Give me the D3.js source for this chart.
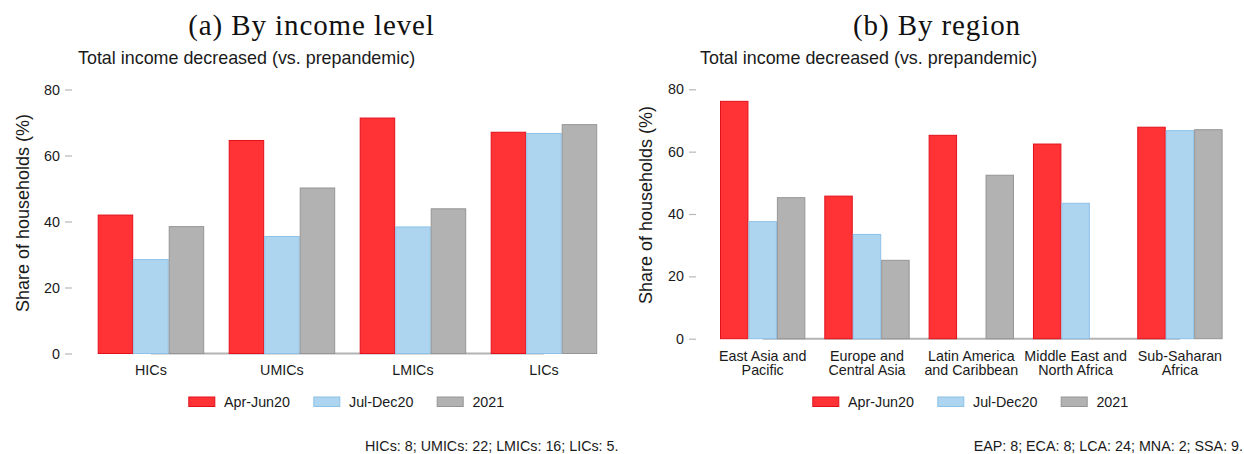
<!DOCTYPE html>
<html>
<head>
<meta charset="utf-8">
<script src="https://cdn.jsdelivr.net/npm/d3@7"></script>
<style>
  html, body { margin: 0; padding: 0; background: #fff; }
  svg { display: block; }
  text { font-family: "Liberation Sans", Arial, sans-serif; fill: #1a1a1a; }
  .title { font-family: "Liberation Serif", "Times New Roman", serif; font-size: 29px; letter-spacing: 0.9px; fill: #111; }
</style>
</head>
<body>
<svg id="chart" width="1244" height="454"></svg>
<script>
// Series shown in both panels
const seriesNames = ["Apr-Jun20", "Jul-Dec20", "2021"];
const seriesFill = ["#ff3336", "#aed5f0", "#b2b2b2"];
const seriesStroke = ["#e2101a", "#8cc1e8", "#959595"];

// Panel (a): income level
const incomeGroups = ["HICs", "UMICs", "LMICs", "LICs"];
const incomeAprJun20 = [42.1, 64.7, 71.5, 67.2];
const incomeJulDec20 = [28.6, 35.6, 38.5, 66.8];
const income2021 = [38.6, 50.3, 44.0, 69.5];
const incomeNote = "HICs: 8; UMICs: 22; LMICs: 16; LICs: 5.";

// Panel (b): region (null = no observation)
const regionGroups = [
  ["East Asia and", "Pacific"],
  ["Europe and", "Central Asia"],
  ["Latin America", "and Caribbean"],
  ["Middle East and", "North Africa"],
  ["Sub-Saharan", "Africa"]
];
const regionAprJun20 = [76.3, 45.9, 65.4, 62.6, 68.0];
const regionJulDec20 = [37.7, 33.6, null, 43.6, 66.9];
const region2021 = [45.4, 25.3, 52.6, null, 67.2];
const regionNote = "EAP: 8; ECA: 8; LCA: 24; MNA: 2; SSA: 9.";

const yTicks = [0, 20, 40, 60, 80];
const subtitle = "Total income decreased (vs. prepandemic)";
const yLabel = "Share of households (%)";

const svg = d3.select("#chart");

function drawPanel(cfg) {
  const g = svg.append("g");
  const labels = cfg.groups.map(d => Array.isArray(d) ? d.join(" ") : d);

  const x = d3.scaleBand().domain(labels).range(cfg.xRange)
    .paddingInner(cfg.padInner).paddingOuter(cfg.padInner / 2);
  const xs = d3.scaleBand().domain(seriesNames).range([0, x.bandwidth()]);
  const y = d3.scaleLinear().domain([0, 80]).range(cfg.yRange);

  // Titles
  g.append("text").attr("class", "title")
    .attr("x", cfg.titleX).attr("y", 35).attr("text-anchor", "middle")
    .text(cfg.title);
  g.append("text").attr("x", cfg.subX).attr("y", 64)
    .style("font-size", "17.9px").text(subtitle);

  // Y axis: ticks and labels only
  const yAxis = d3.axisLeft(y).tickValues(yTicks).tickSize(7).tickPadding(5);
  const ya = g.append("g").attr("transform", `translate(${cfg.axisX},0)`).call(yAxis);
  ya.select(".domain").remove();
  ya.selectAll(".tick line").attr("stroke", "#b8b8b8").attr("stroke-width", 1.2);
  ya.selectAll(".tick text").style("font-size", "14.3px").style("font-family", "Liberation Sans, Arial, sans-serif").attr("fill", "#1a1a1a");

  g.append("text")
    .attr("transform", `translate(${cfg.yLabelX},${cfg.yLabelY}) rotate(-90)`)
    .attr("text-anchor", "middle").style("font-size", "18px")
    .text(yLabel);

  // Zero line spanning the category centres
  g.append("line")
    .attr("x1", x(labels[0]) + x.bandwidth() / 2)
    .attr("x2", x(labels[labels.length - 1]) + x.bandwidth() / 2)
    .attr("y1", y(0)).attr("y2", y(0))
    .attr("stroke", "#b4b4b4").attr("stroke-width", 2);

  // Bars
  const rows = [];
  labels.forEach((lab, i) => {
    cfg.values.forEach((arr, s) => {
      if (arr[i] != null) rows.push({ lab, s, v: arr[i] });
    });
  });
  g.selectAll("rect.bar").data(rows).join("rect")
    .attr("class", "bar")
    .attr("x", d => x(d.lab) + xs(seriesNames[d.s]) + 0.5)
    .attr("width", xs.bandwidth() - 1)
    .attr("y", d => y(d.v) + 0.5)
    .attr("height", d => y(0) - y(d.v) - 0.5)
    .attr("fill", d => seriesFill[d.s])
    .attr("stroke", d => seriesStroke[d.s])
    .attr("stroke-width", 1);

  // Category labels (one or two lines)
  cfg.groups.forEach((grp, i) => {
    const lines = Array.isArray(grp) ? grp : [grp];
    const t = g.append("text")
      .attr("x", x(labels[i]) + x.bandwidth() / 2)
      .attr("text-anchor", "middle").style("font-size", "14.3px");
    lines.forEach((ln, k) => {
      t.append("tspan").attr("x", x(labels[i]) + x.bandwidth() / 2)
        .attr("y", 375 - (lines.length - 1 - k) * 14.5).text(ln);
    });
  });

  // Legend
  const legOffsets = [0, 125, 248.4];
  seriesNames.forEach((name, s) => {
    const lx = cfg.legendX + legOffsets[s];
    g.append("rect").attr("x", lx + 0.5).attr("y", 397)
      .attr("width", 26).attr("height", 9.5)
      .attr("fill", seriesFill[s]).attr("stroke", seriesStroke[s]).attr("stroke-width", 1);
    g.append("text").attr("x", lx + 35.7).attr("y", 407)
      .style("font-size", "14.3px").text(name);
  });

  // Sample note
  g.append("text").attr("x", cfg.noteX).attr("y", 451)
    .attr("text-anchor", "end").style("font-size", "14.3px").text(cfg.note);
}

drawPanel({
  title: "(a) By income level", titleX: 311.5, subX: 78,
  groups: incomeGroups, values: [incomeAprJun20, incomeJulDec20, income2021],
  xRange: [85.45, 609.45], padInner: 0.187, yRange: [353.5, 89.5],
  axisX: 72, yLabelX: 28.5, yLabelY: 213,
  legendX: 188.3, noteX: 618.5, note: incomeNote
});

drawPanel({
  title: "(b) By region", titleX: 937, subX: 700,
  groups: regionGroups, values: [regionAprJun20, regionJulDec20, region2021],
  xRange: [710.5, 1232.1], padInner: 0.182, yRange: [338.7, 89.3],
  axisX: 696, yLabelX: 652, yLabelY: 205,
  legendX: 812.3, noteX: 1243, note: regionNote
});
</script>
</body>
</html>
